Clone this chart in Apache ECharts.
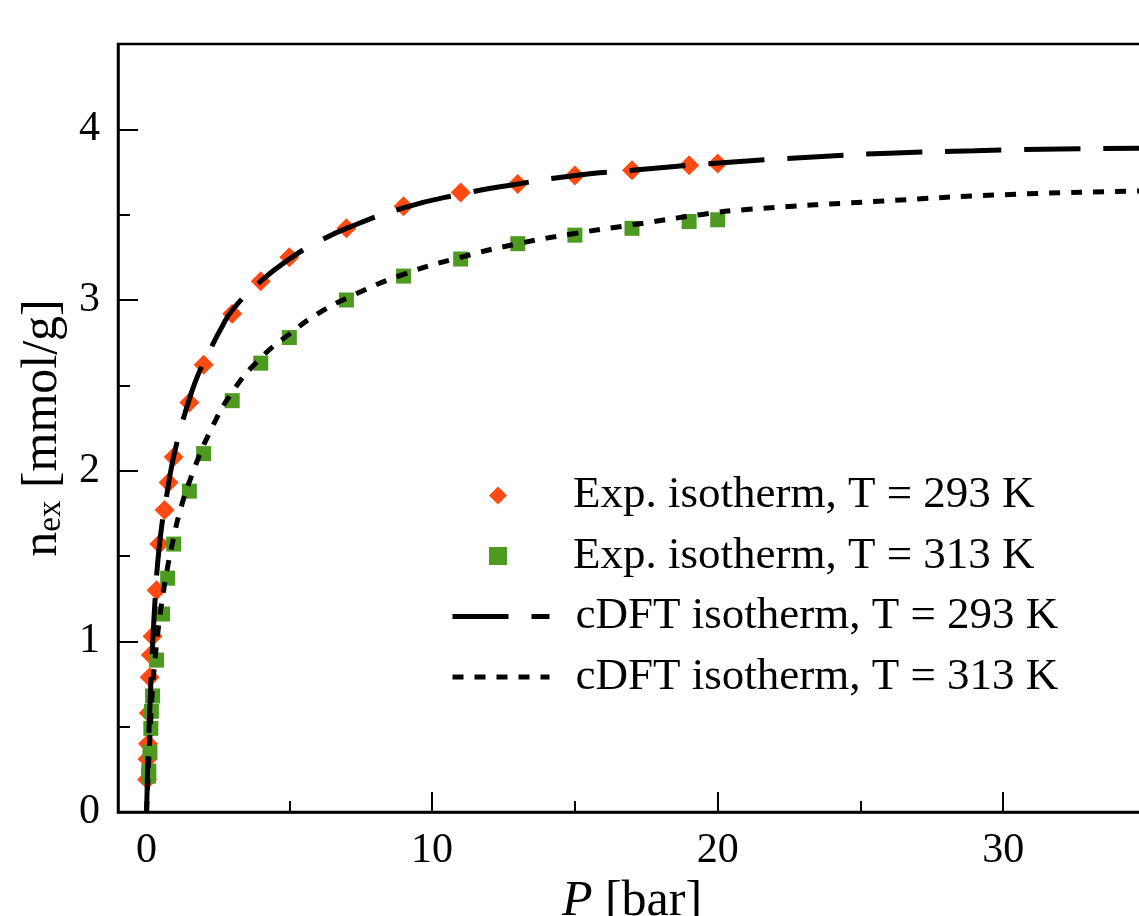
<!DOCTYPE html>
<html>
<head>
<meta charset="utf-8">
<script src="https://cdn.jsdelivr.net/npm/echarts@6/dist/echarts.min.js"></script>
<style>
  html, body { margin: 0; padding: 0; background: #fff; }
  #chart { width: 1139px; height: 916px; }
</style>
</head>
<body>
<div id="chart"></div>
<script>
// Excess adsorption isotherms: experiment vs. cDFT, at two temperatures
const FONT = 'Liberation Serif';

// Experimental points, T = 293 K (pressure in bar, n_ex in mmol/g)
const exp293P = [0.02, 0.03, 0.05, 0.08, 0.11, 0.15, 0.21, 0.35, 0.45, 0.63, 0.77, 0.95, 1.5, 2, 3, 4, 5, 7, 9, 11, 13, 15, 17, 19, 20];
const exp293N = [0.19, 0.31, 0.40, 0.58, 0.79, 0.92, 1.03, 1.30, 1.57, 1.77, 1.93, 2.08, 2.40, 2.62, 2.92, 3.11, 3.25, 3.42, 3.55, 3.63, 3.68, 3.73, 3.76, 3.79, 3.80];

// Experimental points, T = 313 K
const exp313P = [0.07, 0.08, 0.12, 0.15, 0.17, 0.21, 0.35, 0.56, 0.74, 0.95, 1.5, 2, 3, 4, 5, 7, 9, 11, 13, 15, 17, 19, 20];
const exp313N = [0.21, 0.24, 0.35, 0.49, 0.59, 0.68, 0.89, 1.16, 1.37, 1.57, 1.88, 2.10, 2.41, 2.63, 2.78, 3.00, 3.14, 3.24, 3.33, 3.38, 3.42, 3.46, 3.47];

// cDFT isotherm, T = 293 K
const dft293P = [0, 0.03, 0.08, 0.15, 0.22, 0.3, 0.4, 0.55, 0.7, 0.85, 1.0, 1.25, 1.5, 1.8, 2.2, 2.6, 3, 4, 5, 6, 7, 9, 11, 13, 15, 17, 19.8, 23.5, 26, 29, 32, 35];
const dft293N = [0, 0.2, 0.45, 0.75, 1.0, 1.25, 1.48, 1.70, 1.85, 2.0, 2.12, 2.28, 2.42, 2.56, 2.70, 2.83, 2.94, 3.11, 3.24, 3.34, 3.42, 3.54, 3.62, 3.68, 3.73, 3.76, 3.80, 3.84, 3.86, 3.875, 3.885, 3.89];

// cDFT isotherm, T = 313 K
const dft313P = [0, 0.05, 0.1, 0.2, 0.3, 0.4, 0.5, 0.7, 0.9, 1.2, 1.6, 2.2, 3, 4, 5, 6, 7, 9, 11, 13, 15, 17, 19.4, 21, 25.8, 30, 35];
const dft313N = [0, 0.2, 0.38, 0.70, 0.90, 1.06, 1.19, 1.40, 1.57, 1.78, 1.98, 2.22, 2.46, 2.66, 2.80, 2.92, 3.01, 3.15, 3.25, 3.33, 3.39, 3.44, 3.50, 3.53, 3.58, 3.617, 3.64];

// Axis ticks
const xMajorTicks = [0, 10, 20, 30];
const xMinorTicks = [5, 15, 25];
const yMajorTicks = [0, 1, 2, 3, 4];
const yMinorTicks = [0.5, 1.5, 2.5, 3.5];

const seriesNames = [
  'Exp. isotherm, T = 293 K',
  'Exp. isotherm, T = 313 K',
  'cDFT isotherm, T = 293 K',
  'cDFT isotherm, T = 313 K'
];

const zip = (xs, ys) => xs.map((x, i) => [x, ys[i]]);

const X_MIN = -1, X_MAX = 35, Y_MIN = 0, Y_MAX = 4.5;
const DASH_293 = [56, 23];
const DASH_313 = [11, 11];

const chart = echarts.init(document.getElementById('chart'), null, { renderer: 'canvas' });

const axisLineStyle = { color: '#000', width: 2.5 };
const legendText = { fontFamily: FONT, fontSize: 45, color: '#000', lineHeight: 45 };
const ROW = 45, GAP = 15.5, LEGEND_TOP = 473;

chart.setOption({
  animation: false,
  backgroundColor: '#fff',
  grid: {
    left: 118, top: 44, width: 1028, height: 768,
    outerBoundsMode: 'none',
    show: true, borderColor: '#000', borderWidth: 2.5,
    containLabel: false
  },
  legend: [
    {
      // markers of the measured isotherms
      orient: 'vertical', padding: 0,
      left: 489, top: LEGEND_TOP,
      itemWidth: 18, itemHeight: 18, itemGap: GAP,
      data: [
        { name: seriesNames[0], icon: 'diamond' },
        { name: seriesNames[1], icon: 'rect' }
      ],
      textStyle: Object.assign({ padding: [0, 0, 0, 61] }, legendText),
      selectedMode: false
    },
    {
      // dashed cDFT curves
      orient: 'vertical', padding: 0,
      left: 450, top: LEGEND_TOP + 2 * (ROW + GAP),
      itemWidth: 97, itemHeight: 18, itemGap: GAP,
      data: [
        { name: seriesNames[2], lineStyle: { color: '#000', width: 5, type: DASH_293 }, itemStyle: { opacity: 0 } },
        { name: seriesNames[3], lineStyle: { color: '#000', width: 5, type: DASH_313 }, itemStyle: { opacity: 0 } }
      ],
      textStyle: Object.assign({ padding: [0, 0, 0, 21] }, legendText),
      selectedMode: false
    }
  ],
  xAxis: [
    {
      type: 'value', min: X_MIN, max: X_MAX,
      name: '{i|P} [bar]',
      nameLocation: 'middle', nameGap: 54,
      nameTextStyle: {
        fontFamily: FONT, fontSize: 50, color: '#000', lineHeight: 50,
        rich: { i: { fontFamily: FONT, fontSize: 50, fontStyle: 'italic', lineHeight: 50 } }
      },
      axisLine: { show: true, onZero: false, lineStyle: axisLineStyle },
      axisTick: { show: true, inside: true, length: 20, customValues: xMajorTicks, lineStyle: { color: '#000', width: 2 } },
      axisLabel: { show: true, customValues: xMajorTicks, margin: 18, fontFamily: FONT, fontSize: 42, color: '#000' },
      splitLine: { show: false }
    },
    {
      type: 'value', min: X_MIN, max: X_MAX, position: 'bottom',
      axisLine: { show: false, onZero: false },
      axisTick: { show: true, inside: true, length: 11, customValues: xMinorTicks, lineStyle: { color: '#000', width: 2 } },
      axisLabel: { show: false },
      splitLine: { show: false }
    }
  ],
  yAxis: [
    {
      type: 'value', min: Y_MIN, max: Y_MAX,
      name: '{n|n}{s|ex}{n| [mmol/g]}',
      nameLocation: 'middle', nameGap: 41, nameRotate: 90,
      nameTextStyle: {
        fontFamily: FONT, fontSize: 50, color: '#000', lineHeight: 50,
        rich: {
          n: { fontFamily: FONT, fontSize: 50, lineHeight: 50, color: '#000' },
          s: { fontFamily: FONT, fontSize: 33, lineHeight: 13, verticalAlign: 'bottom', color: '#000' }
        }
      },
      axisLine: { show: true, onZero: false, lineStyle: axisLineStyle },
      axisTick: { show: true, inside: true, length: 20, customValues: yMajorTicks, lineStyle: { color: '#000', width: 2 } },
      axisLabel: { show: true, customValues: yMajorTicks, margin: 18, fontFamily: FONT, fontSize: 42, color: '#000' },
      splitLine: { show: false }
    },
    {
      type: 'value', min: Y_MIN, max: Y_MAX, position: 'left',
      axisLine: { show: false, onZero: false },
      axisTick: { show: true, inside: true, length: 12, customValues: yMinorTicks, lineStyle: { color: '#000', width: 2 } },
      axisLabel: { show: false },
      splitLine: { show: false }
    }
  ],
  series: [
    {
      name: seriesNames[0], type: 'scatter',
      data: zip(exp293P, exp293N),
      symbol: 'diamond', symbolSize: 20,
      itemStyle: { color: '#FF4A14', opacity: 1 },
      z: 2
    },
    {
      name: seriesNames[1], type: 'scatter',
      data: zip(exp313P, exp313N),
      symbol: 'rect', symbolSize: 15,
      itemStyle: { color: '#4E9A20', opacity: 1 },
      z: 2
    },
    {
      name: seriesNames[2], type: 'line',
      data: zip(dft293P, dft293N),
      showSymbol: false, symbol: 'none',
      smooth: 0.5,
      lineStyle: { color: '#000', width: 5, type: DASH_293 },
      itemStyle: { color: '#000' },
      z: 3
    },
    {
      name: seriesNames[3], type: 'line',
      data: zip(dft313P, dft313N),
      showSymbol: false, symbol: 'none',
      smooth: 0.5,
      lineStyle: { color: '#000', width: 5, type: DASH_313 },
      itemStyle: { color: '#000' },
      z: 3
    }
  ]
});
</script>
</body>
</html>
